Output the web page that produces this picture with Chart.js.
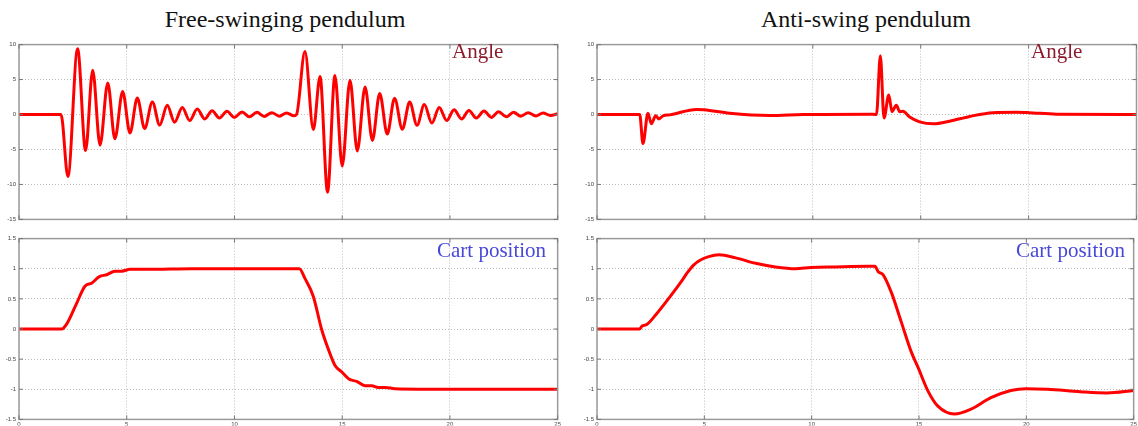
<!DOCTYPE html>
<html>
<head>
<meta charset="utf-8">
<script src="https://cdn.jsdelivr.net/npm/chart.js@4/dist/chart.umd.min.js"></script>
<style>
  body { margin: 0; background: #fff; width: 1138px; height: 426px; position: relative; overflow: hidden; }
  .box { position: absolute; }
  .title { position: absolute; font-family: "Liberation Serif", serif; font-size: 24px; line-height: 1; color: #111; white-space: nowrap; transform: translateX(-50%); }
  .lbl { position: absolute; font-family: "Liberation Serif", serif; font-size: 21px; line-height: 1; white-space: nowrap; }
  .angle { color: #8c1a2c; }
  .cart { color: #4848d8; }
</style>
</head>
<body>

<div class="title" style="left:285px; top:7px;">Free-swinging pendulum</div>
<div class="title" style="left:866px; top:7px;">Anti-swing pendulum</div>

<div class="box" style="left:0px; top:38px;"><canvas id="c1" width="562" height="188"></canvas></div>
<div class="box" style="left:0px; top:232px;"><canvas id="c2" width="562" height="194"></canvas></div>
<div class="box" style="left:578px; top:38px;"><canvas id="c3" width="560" height="188"></canvas></div>
<div class="box" style="left:578px; top:232px;"><canvas id="c4" width="560" height="194"></canvas></div>

<div class="lbl angle" style="left:452px; top:41px;">Angle</div>
<div class="lbl cart" style="left:437px; top:240px;">Cart position</div>
<div class="lbl angle" style="left:1031px; top:41px;">Angle</div>
<div class="lbl cart" style="left:1016px; top:240px;">Cart position</div>

<script>
// ---- data (time in s) ----
var freeAngleT = [0, 1.95, 2.27, 2.72, 3.09, 3.42, 3.76, 4.12, 4.45, 4.81, 5.15, 5.49, 5.83, 6.19, 6.53, 6.88, 7.22, 7.58, 7.92, 8.27, 8.62, 8.96, 9.3, 9.65, 9.99, 10.35, 10.69, 11.04, 11.38, 11.73, 12.08, 12.42, 12.76, 12.88,
                  13.27, 13.66, 13.97, 14.32, 14.66, 15.0, 15.36, 15.7, 16.06, 16.4, 16.74, 17.09, 17.43, 17.79, 18.13, 18.47, 18.81, 19.16, 19.5, 19.85, 20.19, 20.54, 20.88, 21.22, 21.58, 21.92, 22.26, 22.61, 22.95, 23.29, 23.63, 23.98, 24.32, 24.66, 25];
var freeAngleV = [0, 0, -8.86, 9.4, -5.16, 6.34, -4.38, 4.52, -3.47, 3.29, -2.65, 2.37, -2.01, 1.78, -1.51, 1.33, -1.1, 1.0, -0.87, 0.78, -0.64, 0.55, -0.5, 0.45, -0.41, 0.37, -0.33, 0.32, -0.27, 0.27, -0.23, 0.23, -0.18, 0.0,
                  9.0, -2.15, 5.43, -11.1, 5.57, -7.35, 4.89, -5.2, 3.93, -3.7, 3.01, -2.78, 2.33, -2.1, 1.78, -1.55, 1.42, -1.23, 1.0, -0.87, 0.68, -0.64, 0.59, -0.5, 0.5, -0.41, 0.41, -0.32, 0.32, -0.23, 0.27, -0.2, 0.23, -0.14, 0.1];

var freeCartT = [0, 1.98, 2.21, 2.68, 3.06, 3.37, 3.73, 4.07, 4.45, 4.77, 5.15, 6.0, 8.0, 10.0, 12.0, 13.01, 13.27, 13.66, 14.04, 14.35, 14.66, 14.97, 15.31, 15.67, 16.06, 16.37, 16.67, 17.0, 17.45, 20.0, 25];
var freeCartV = [0, 0, 0.08, 0.43, 0.71, 0.76, 0.87, 0.9, 0.96, 0.96, 0.99, 0.99, 1.0, 1.0, 1.0, 1.0, 0.84, 0.54, 0.0, -0.33, -0.6, -0.71, -0.83, -0.87, -0.94, -0.94, -0.97, -0.97, -0.99, -1.0, -1.0];

var antiAngleT = [0, 1.98, 2.13, 2.36, 2.52, 2.72, 2.87, 3.06, 3.37, 4.6, 4.96, 6.15, 8.0, 9.55, 12.64, 12.95, 13.13, 13.3, 13.52, 13.67, 13.87, 14.03, 14.18, 14.49, 14.95, 15.6, 16.34, 17.27, 18.35, 19.43, 19.99, 21.29, 25];
var antiAngleV = [0, 0, -4.15, 0.18, -1.33, -0.18, -0.64, -0.18, -0.05, 0.73, 0.68, 0.18, -0.14, 0.0, 0.05, 0.0, 8.4, -0.5, 2.78, 0.41, 1.32, 0.41, 0.45, -0.36, -1.05, -1.33, -0.96, -0.27, 0.27, 0.32, 0.27, 0.05, 0.0];

var antiCartT = [0, 1.98, 2.1, 2.32, 2.75, 3.37, 3.99, 4.2, 4.5, 4.8, 5.2, 5.69, 6.46, 7.39, 8.31, 9.24, 9.96, 11.09, 12.64, 12.95, 13.1, 13.33, 13.72, 14.18, 14.64, 14.97, 15.42, 15.88, 16.65, 17.42, 18.35, 19.28, 19.99, 20.98, 22.52, 23.76, 25];
var antiCartV = [0, 0, 0.05, 0.075, 0.24, 0.52, 0.82, 0.93, 1.06, 1.14, 1.2, 1.23, 1.18, 1.09, 1.03, 1.0, 1.02, 1.03, 1.04, 1.04, 0.95, 0.9, 0.6, 0.11, -0.38, -0.65, -1.03, -1.28, -1.41, -1.33, -1.14, -1.02, -0.99, -1.0, -1.04, -1.06, -1.02];

var xTicks = [0, 5, 10, 15, 20, 25];
var angleTicks = [-15, -10, -5, 0, 5, 10];
var cartTicks = [-1.5, -1, -0.5, 0, 0.5, 1, 1.5];

function pts(t, v) {
    var out = [];
    for (var i = 0; i < t.length; i++) out.push({ x: t[i], y: v[i] });
    return out;
}

// matlab-ish frame around the plot + little inward ticks
var framePlugin = {
    id: 'frame',
    afterDraw: function(chart) {
        var a = chart.chartArea, c = chart.ctx;
        c.save();
        c.strokeStyle = '#9a9a9a';
        c.lineWidth = 1.5;
        c.strokeRect(a.left, a.top, a.right - a.left, a.bottom - a.top);
        c.lineWidth = 1;
        c.strokeStyle = '#777';
        var xs = chart.scales.x, ys = chart.scales.y;
        xs.ticks.forEach(function(tk) {
            var px = xs.getPixelForValue(tk.value);
            c.beginPath(); c.moveTo(px, a.bottom); c.lineTo(px, a.bottom - 4); c.stroke();
            c.beginPath(); c.moveTo(px, a.top); c.lineTo(px, a.top + 4); c.stroke();
        });
        ys.ticks.forEach(function(tk) {
            var py = ys.getPixelForValue(tk.value);
            c.beginPath(); c.moveTo(a.left, py); c.lineTo(a.left + 4, py); c.stroke();
            c.beginPath(); c.moveTo(a.right, py); c.lineTo(a.right - 4, py); c.stroke();
        });
        c.restore();
    }
};

function makeChart(id, t, v, yTicks, showX, padRight, padTop, xHeight) {
    return new Chart(document.getElementById(id), {
        type: 'line',
        data: {
            datasets: [{
                data: pts(t, v),
                borderColor: '#ff0000',
                borderWidth: 3,
                pointRadius: 0,
                fill: false,
                cubicInterpolationMode: 'monotone'
            }]
        },
        options: {
            responsive: false,
            animation: false,
            layout: { padding: { top: padTop, right: padRight, left: 0, bottom: 0 } },
            plugins: { legend: { display: false }, tooltip: { enabled: false } },
            scales: {
                x: {
                    type: 'linear',
                    min: 0, max: 25,
                    afterBuildTicks: function(s) { s.ticks = xTicks.map(function(n) { return { value: n }; }); },
                    afterFit: function(s) { s.height = xHeight; },
                    grid: { color: '#bdbdbd', drawTicks: false },
                    border: { display: false, dash: [1, 2] },
                    ticks: {
                        display: showX, padding: 1, maxRotation: 0,
                        font: { size: 6, family: 'Arial, "Liberation Sans", sans-serif' }, color: '#444',
                        callback: function(val) { return String(val); }
                    }
                },
                y: {
                    min: yTicks[0], max: yTicks[yTicks.length - 1],
                    afterBuildTicks: function(s) { s.ticks = yTicks.map(function(n) { return { value: n }; }); },
                    afterFit: function(s) { s.width = 19; },
                    grid: { color: '#bdbdbd', drawTicks: false },
                    border: { display: false, dash: [1, 2] },
                    ticks: {
                        padding: 3,
                        font: { size: 6, family: 'Arial, "Liberation Sans", sans-serif' }, color: '#444',
                        callback: function(val) { return String(val); }
                    }
                }
            }
        },
        plugins: [framePlugin]
    });
}

makeChart('c1', freeAngleT, freeAngleV, angleTicks, false, 4.3, 2, 3.5);
makeChart('c2', freeCartT, freeCartV, cartTicks, true, 4.3, 4.7, 6);
makeChart('c3', antiAngleT, antiAngleV, angleTicks, false, 1.5, 2, 3.5);
makeChart('c4', antiCartT, antiCartV, cartTicks, true, 1.5, 4.7, 6);
</script>
</body>
</html>
